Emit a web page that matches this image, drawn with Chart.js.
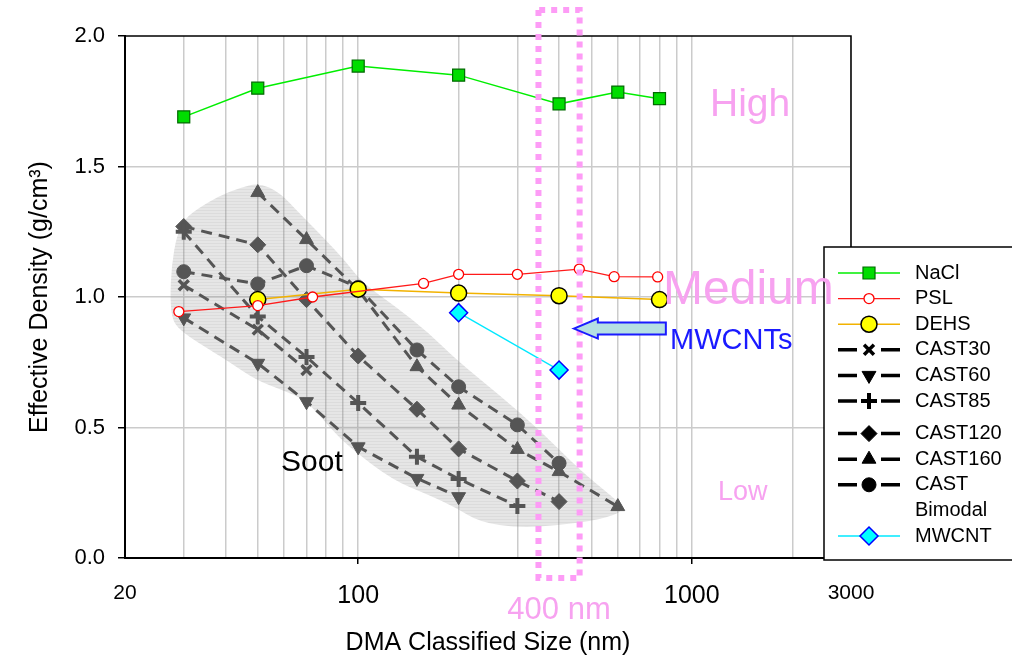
<!DOCTYPE html>
<html>
<head>
<meta charset="utf-8">
<script src="https://cdn.jsdelivr.net/npm/chart.js@4.4.0/dist/chart.umd.min.js"></script>
<style>
html, body { margin: 0; padding: 0; background: #fff; }
canvas { display: block; }
</style>
</head>
<body>
<canvas id="chart" width="1012" height="660"></canvas>
<script>
// --- data (size in nm, effective density in g/cm3) ---
var naclX = [30, 50, 100, 200, 400, 600, 800];
var naclY = [1.69, 1.80, 1.885, 1.85, 1.74, 1.785, 1.76];

var pslX = [29, 50, 73, 157, 200, 300, 460, 585, 790];
var pslY = [0.944, 0.967, 1.0, 1.052, 1.087, 1.087, 1.107, 1.078, 1.077];

var dehsX = [50, 100, 200, 400, 800];
var dehsY = [0.99, 1.03, 1.015, 1.005, 0.99];

var cast30X = [30, 50, 70];
var cast30Y = [1.045, 0.875, 0.72];

var cast60X = [30, 50, 70, 100, 150, 200];
var cast60Y = [0.92, 0.746, 0.599, 0.426, 0.305, 0.235];

var cast85X = [30, 50, 70, 100, 150, 200, 300];
var cast85Y = [1.25, 0.925, 0.77, 0.594, 0.388, 0.303, 0.199];

var cast120X = [30, 50, 70, 100, 150, 200, 300, 400];
var cast120Y = [1.27, 1.20, 0.99, 0.774, 0.57, 0.418, 0.295, 0.216];

var cast160X = [50, 70, 100, 150, 200, 300, 400, 600];
var cast160Y = [1.40, 1.22, 1.027, 0.733, 0.586, 0.416, 0.331, 0.197];

var castBiX = [30, 50, 70, 100, 150, 200, 300, 400];
var castBiY = [1.097, 1.05, 1.12, 1.037, 0.797, 0.656, 0.51, 0.363];

var mwcntX = [200, 400];
var mwcntY = [0.94, 0.72];

// outline of the shaded soot region
var sootX = [50.4, 44, 38.3, 33.3, 30.4, 28.6, 27.6, 27.3, 27.8, 30, 34, 40.2, 49.4, 59.1, 69.8, 83.5, 94,
  126.5, 163, 197, 231, 304, 401, 529, 638, 579, 461, 350, 265, 197, 163, 130, 103, 92, 80, 66.5, 58];
var sootY = [1.437, 1.418, 1.387, 1.341, 1.303, 1.238, 1.123, 0.989, 0.904, 0.862, 0.816, 0.759, 0.682, 0.644, 0.605, 0.49, 0.425,
  0.299, 0.241, 0.192, 0.138, 0.115, 0.126, 0.146, 0.184, 0.234, 0.337, 0.49, 0.625, 0.759, 0.862, 0.962, 1.054, 1.134, 1.218, 1.322, 1.402];

var xGrid = [20, 30, 40, 50, 60, 70, 80, 90, 100, 200, 300, 400, 500, 600, 700, 800, 900, 1000, 2000, 3000];
var xLabeled = [20, 100, 1000, 3000];
var windowX = [347, 461]; // 400 nm highlight box

var legendLabels = [['NaCl'], ['PSL'], ['DEHS'], ['CAST30'], ['CAST60'], ['CAST85'], ['CAST120'], ['CAST160'], ['CAST', 'Bimodal'], ['MWCNT']];

function pts(xs, ys) {
  var out = [];
  for (var i = 0; i < xs.length; i++) out.push({x: xs[i], y: ys[i]});
  return out;
}

var GRAY = '#555555';
var PINK = '#f7a2f0';
var FONT = "'Liberation Sans', Arial, sans-serif";

function castSet(label, xs, ys, style, rot, r, bw) {
  return {
    label: label, data: pts(xs, ys), showLine: true,
    borderColor: GRAY, borderWidth: 3, borderDash: [11, 7],
    pointStyle: style, rotation: rot, pointRadius: r,
    pointBackgroundColor: GRAY, pointBorderColor: GRAY, pointBorderWidth: bw,
    legendColor: '#000', dashed: true
  };
}

var datasets = [
  {label: 'NaCl', data: pts(naclX, naclY), showLine: true, borderColor: '#00ee00', borderWidth: 1.5,
    pointStyle: 'rect', pointRadius: 8.5, pointBackgroundColor: '#00dd00', pointBorderColor: '#006a00', pointBorderWidth: 1.2},
  {label: 'PSL', data: pts(pslX, pslY), showLine: true, borderColor: '#ff1a1a', borderWidth: 1.3,
    pointStyle: 'circle', pointRadius: 5, pointBackgroundColor: '#ffffff', pointBorderColor: '#ff0000', pointBorderWidth: 1.3},
  {label: 'DEHS', data: pts(dehsX, dehsY), showLine: true, borderColor: '#f2b200', borderWidth: 1.5,
    pointStyle: 'circle', pointRadius: 8, pointBackgroundColor: '#ffff00', pointBorderColor: '#000000', pointBorderWidth: 1.5},
  castSet('CAST30', cast30X, cast30Y, 'crossRot', 0, 7, 3.5),
  castSet('CAST60', cast60X, cast60Y, 'triangle', 180, 8, 1),
  castSet('CAST85', cast85X, cast85Y, 'cross', 0, 8, 4),
  castSet('CAST120', cast120X, cast120Y, 'rectRot', 0, 8, 1),
  castSet('CAST160', cast160X, cast160Y, 'triangle', 0, 8, 1),
  castSet('CAST Bimodal', castBiX, castBiY, 'circle', 0, 7, 1),
  {label: 'MWCNT', data: pts(mwcntX, mwcntY), showLine: true, borderColor: '#00e8ff', borderWidth: 1.3,
    pointStyle: 'rectRot', pointRadius: 9, pointBackgroundColor: '#00ffff', pointBorderColor: '#0000ff', pointBorderWidth: 1.5}
];

function sootPattern(ctx) {
  var c = document.createElement('canvas');
  c.width = 4; c.height = 3;
  var g = c.getContext('2d');
  g.fillStyle = 'rgba(128,128,128,0.2)';
  g.fillRect(0, 0, 4, 3);
  g.fillStyle = 'rgba(128,128,128,0.1)';
  g.fillRect(0, 0, 4, 1);
  return ctx.createPattern(c, 'repeat');
}

function drawMarker(ctx, opts, x, y) {
  if (Chart.helpers && Chart.helpers.drawPoint) {
    Chart.helpers.drawPoint(ctx, opts, x, y);
  }
}

var annotations = {
  id: 'annotations',
  beforeDatasetsDraw: function(chart) {
    var ctx = chart.ctx, sx = chart.scales.x, sy = chart.scales.y;
    // soot region
    var p = [];
    for (var i = 0; i < sootX.length; i++) p.push([sx.getPixelForValue(sootX[i]), sy.getPixelForValue(sootY[i])]);
    ctx.save();
    ctx.beginPath();
    var n = p.length;
    var m0 = [(p[n - 1][0] + p[0][0]) / 2, (p[n - 1][1] + p[0][1]) / 2];
    ctx.moveTo(m0[0], m0[1]);
    for (var k = 0; k < n; k++) {
      var a = p[k], b = p[(k + 1) % n];
      ctx.quadraticCurveTo(a[0], a[1], (a[0] + b[0]) / 2, (a[1] + b[1]) / 2);
    }
    ctx.closePath();
    ctx.fillStyle = sootPattern(ctx);
    ctx.fill();
    ctx.restore();
  },
  afterDraw: function(chart) {
    var ctx = chart.ctx, sx = chart.scales.x, sy = chart.scales.y, area = chart.chartArea;
    ctx.save();
    // frame
    ctx.strokeStyle = '#000';
    ctx.lineWidth = 1.5;
    ctx.beginPath();
    ctx.moveTo(area.left, area.top);
    ctx.lineTo(area.right, area.top);
    ctx.lineTo(area.right, area.bottom);
    ctx.stroke();

    // dotted 400 nm window
    var xl = sx.getPixelForValue(windowX[0]), xr = sx.getPixelForValue(windowX[1]);
    var yt = sy.getPixelForValue(2.1), yb = sy.getPixelForValue(-0.077);
    ctx.strokeStyle = '#fd9cf6';
    ctx.lineWidth = 6;
    ctx.setLineDash([6, 6]);
    ctx.beginPath();
    ctx.moveTo(xl, yt); ctx.lineTo(xl, yb); ctx.lineTo(xr, yb); ctx.lineTo(xr, yt); ctx.closePath();
    ctx.stroke();
    ctx.setLineDash([]);

    // arrow pointing at the MWCNT points
    var tx = sx.getPixelForValue(443), ty = sy.getPixelForValue(0.879);
    ctx.beginPath();
    ctx.moveTo(tx, ty);
    ctx.lineTo(tx + 24, ty - 10);
    ctx.lineTo(tx + 24, ty - 6);
    ctx.lineTo(tx + 92, ty - 6);
    ctx.lineTo(tx + 92, ty + 6);
    ctx.lineTo(tx + 24, ty + 6);
    ctx.lineTo(tx + 24, ty + 10);
    ctx.closePath();
    ctx.fillStyle = '#b5dfe3';
    ctx.fill();
    ctx.strokeStyle = '#1a1aff';
    ctx.lineWidth = 2;
    ctx.stroke();

    // legend
    ctx.fillStyle = '#fff';
    ctx.fillRect(824, 247, 200, 313);
    ctx.strokeStyle = '#000';
    ctx.lineWidth = 1.5;
    ctx.strokeRect(824, 247, 200, 313);
    var y = 273;
    chart.data.datasets.forEach(function(ds, i) {
      if (i === 6) y += 7;
      var col = ds.legendColor || ds.borderColor;
      ctx.save();
      ctx.strokeStyle = col;
      if (ds.dashed) {
        ctx.lineWidth = 3.5;
        ctx.beginPath();
        ctx.moveTo(838, y); ctx.lineTo(857, y);
        ctx.moveTo(881, y); ctx.lineTo(900, y);
        ctx.stroke();
      } else {
        ctx.lineWidth = ds.borderWidth;
        ctx.beginPath();
        ctx.moveTo(838, y); ctx.lineTo(900, y);
        ctx.stroke();
      }
      ctx.fillStyle = ds.legendColor || ds.pointBackgroundColor;
      ctx.strokeStyle = ds.legendColor || ds.pointBorderColor;
      ctx.lineWidth = ds.pointBorderWidth;
      drawMarker(ctx, {pointStyle: ds.pointStyle, rotation: ds.rotation || 0, radius: ds.pointRadius, borderWidth: ds.pointBorderWidth}, 869, y);
      ctx.restore();
      ctx.fillStyle = '#000';
      ctx.font = '20px ' + FONT;
      ctx.textBaseline = 'middle';
      ctx.textAlign = 'left';
      var lines = legendLabels[i];
      for (var j = 0; j < lines.length; j++) {
        ctx.fillText(lines[j], 915, y + j * 25.6);
      }
      y += 25.6 * lines.length;
    });

    // text labels
    ctx.textBaseline = 'alphabetic';
    ctx.textAlign = 'left';
    ctx.fillStyle = PINK;
    ctx.font = '39px ' + FONT;
    ctx.fillText('High', 710, 116);
    ctx.font = '48px ' + FONT;
    ctx.fillText('Medium', 663, 304);
    ctx.font = '27px ' + FONT;
    ctx.fillText('Low', 718, 500);
    ctx.textAlign = 'center';
    ctx.font = '31px ' + FONT;
    ctx.fillText('400 nm', (xl + xr) / 2, 619);
    ctx.textAlign = 'left';
    ctx.fillStyle = '#1a1aff';
    ctx.font = '29px ' + FONT;
    ctx.fillText('MWCNTs', 670, 349);
    ctx.fillStyle = '#000';
    ctx.font = '30px ' + FONT;
    ctx.fillText('Soot', 281, 471);
    ctx.restore();
  }
};

Chart.defaults.font.family = FONT;

var chart = new Chart(document.getElementById('chart'), {
  type: 'scatter',
  data: {datasets: datasets},
  options: {
    responsive: false,
    animation: false,
    devicePixelRatio: 1,
    layout: {padding: {top: 36, right: 161, left: 0, bottom: 0}},
    plugins: {legend: {display: false}, tooltip: {enabled: false}},
    scales: {
      x: {
        type: 'logarithmic', min: 20, max: 3000,
        afterBuildTicks: function(s) { s.ticks = xGrid.map(function(v) { return {value: v}; }); },
        afterFit: function(s) { s.height = 102; },
        ticks: {
          autoSkip: false, maxRotation: 0, padding: 17, color: '#000',
          callback: function(v) { return xLabeled.indexOf(v) >= 0 ? String(v) : ''; },
          font: function(c) {
            var v = c.tick ? c.tick.value : 0;
            return {size: (v === 100 || v === 1000) ? 25 : 21};
          }
        },
        grid: {
          lineWidth: 1.5, tickLength: 6, tickWidth: 1.5,
          color: function(c) { return '#cbcbcb'; },
          tickColor: function(c) {
            var v = c.tick ? c.tick.value : 0;
            return (v === 100 || v === 1000) ? '#000' : 'rgba(0,0,0,0)';
          }
        },
        border: {color: '#000', width: 2},
        title: {display: true, text: 'DMA Classified Size (nm)', color: '#000', font: {size: 25}, padding: {top: 0, bottom: 2}}
      },
      y: {
        min: 0, max: 2,
        afterFit: function(s) { s.width = 125; },
        ticks: {stepSize: 0.5, color: '#000', font: {size: 22}, padding: 13,
          callback: function(v) { return v.toFixed(1); }},
        grid: {
          lineWidth: 1.5, tickLength: 7, tickWidth: 1.5, tickColor: '#000',
          color: function(c) {
            var v = c.tick ? c.tick.value : 0;
            return (v === 0 || v === 2) ? 'rgba(0,0,0,0)' : '#cbcbcb';
          }
        },
        border: {color: '#000', width: 2},
        title: {display: true, text: 'Effective Density (g/cm³)', color: '#000', font: {size: 25}, padding: {top: 25, bottom: 0}}
      }
    }
  },
  plugins: [annotations]
});
</script>
</body>
</html>
